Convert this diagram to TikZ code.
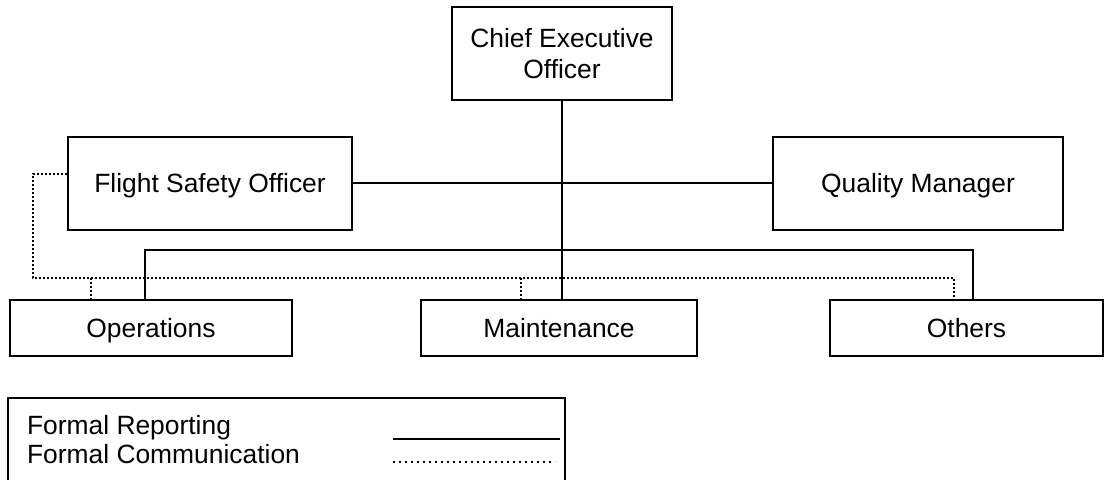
\documentclass[tikz,border=0pt]{standalone}
\usepackage{fontspec}
\setmainfont{Liberation Sans}
\usetikzlibrary{positioning}

\tikzset{
  box/.style={draw, line width=1pt, align=center, inner sep=0pt},
  unit/.style={box, text height=9.45pt, text depth=0pt},
  report/.style={line width=1pt},
  comm/.style={line width=1pt, dash pattern=on 1pt off 1pt},
}

\begin{document}
\begin{tikzpicture}[x=0.5pt,y=-0.5pt,font=\fontsize{13.2}{15.5}\selectfont]
\useasboundingbox (0,0) rectangle (1105,480);

% boxes
\node[box, minimum width=110pt, minimum height=46.5pt] (ceo) at (562,53.5) {Chief Executive\\Officer};
\node[unit, minimum width=142pt, minimum height=46.5pt] (fso) at (210,183.5) {Flight Safety Officer};
\node[unit, minimum width=145pt, minimum height=46.5pt] (qm) at (918,183.5) {Quality Manager};
\node[unit, minimum width=141pt, minimum height=28pt] (ops) at (151,328) {Operations};
\node[unit, minimum width=138pt, minimum height=28pt] (mnt) at (559,328) {Maintenance};
\node[unit, minimum width=136.5pt, minimum height=28pt] (oth) at (966.5,328) {Others};

% formal reporting
\coordinate (barL) at (145,250);
\coordinate (barR) at (973,250);
\draw[report] (ceo.south) -- (ceo.south |- mnt.north);
\draw[report] (fso) -- (qm);
\draw[report] (ops.north -| barL) -- (barL) -- (barR) -- (oth.north -| barR);

% formal communication
\coordinate (dA) at (33,174);
\coordinate (dB) at (33,278);
\coordinate (dC) at (954,278);
\coordinate (d1) at (91,278);
\coordinate (d2) at (521,278);
\draw[comm] (fso.west |- dA) -- (dA) -- (dB) -- (dC) -- (oth.north -| dC);
\draw[comm] (d1) -- (ops.north -| d1);
\draw[comm] (d2) -- (mnt.north -| d2);

% legend
\draw[line width=1pt] (8,500) -- (8,398) -- (565,398) -- (565,500);
\node[anchor=west, text height=9.45pt, text depth=0pt] (lrep) at (20,425) {Formal Reporting};
\node[anchor=west, text height=9.45pt, text depth=0pt] (lcom) at (20,454) {Formal Communication};
\coordinate (lr1) at (393,439);
\coordinate (lr2) at (560,439);
\coordinate (lc1) at (393,462);
\coordinate (lc2) at (555,462);
\draw[report] (lr1) -- (lr2);
\draw[line width=1pt, dash pattern=on 1pt off 2pt] (lc1) -- (lc2);
\end{tikzpicture}
\end{document}
